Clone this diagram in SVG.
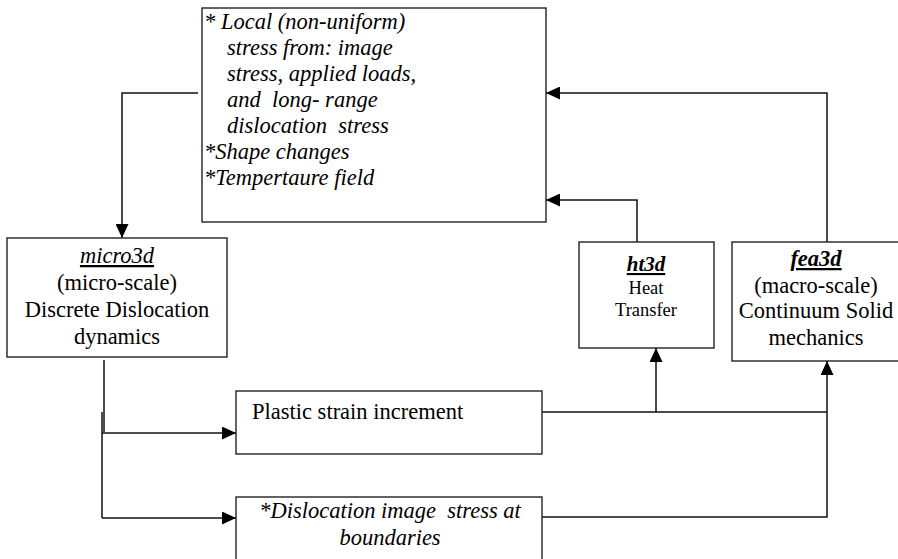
<svg xmlns="http://www.w3.org/2000/svg" width="898" height="559" viewBox="0 0 898 559" font-family="'Liberation Serif', 'DejaVu Serif', serif">
<style>
.box{fill:#fff;stroke:#222;stroke-width:1.4}
.t{font-size:22.5px;fill:#000}
.i{font-style:italic}
.b{font-weight:bold}
.u{text-decoration:underline}
.m{text-anchor:middle}
.c{fill:none;stroke:#111;stroke-width:1.5}
</style>
<defs>
<marker id="ah" markerUnits="userSpaceOnUse" markerWidth="15" markerHeight="13" refX="14" refY="6.5" orient="auto">
<path d="M0,0 L14,6.5 L0,13 z" fill="#000"/>
</marker>
</defs>
<rect width="898" height="559" fill="#fff"/>
<g id="connectors">
<path class="c" d="M198,93 H122 V238" marker-end="url(#ah)"/>
<path class="c" d="M827,242 V93 H546" marker-end="url(#ah)"/>
<path class="c" d="M637,242 V200 H546" marker-end="url(#ah)"/>
<path class="c" d="M104,360 V432"/>
<path class="c" d="M102,412 V518"/>
<path class="c" d="M102,433 H236" marker-end="url(#ah)"/>
<path class="c" d="M102,518 H236" marker-end="url(#ah)"/>
<path class="c" d="M542,412 H827"/>
<path class="c" d="M656,412 V348" marker-end="url(#ah)"/>
<path class="c" d="M542,517 H827 V361" marker-end="url(#ah)"/>
</g>
<g id="local-stress">
<rect class="box" x="202" y="8" width="344" height="214"/>
<text class="t i" x="204" y="29">* Local (non-uniform)</text>
<text class="t i" x="227" y="55">stress from: image</text>
<text class="t i" x="227" y="81">stress, applied loads,</text>
<text class="t i" x="227" y="107" xml:space="preserve">and  long- range</text>
<text class="t i" x="227" y="133" xml:space="preserve">dislocation  stress</text>
<text class="t i" x="204" y="159">*Shape changes</text>
<text class="t i" x="204" y="185">*Tempertaure field</text>
</g>
<g id="micro3d">
<rect class="box" x="7" y="238" width="220" height="119"/>
<text class="t i u m" x="117" y="263">micro3d</text>
<text class="t m" x="117" y="290">(micro-scale)</text>
<text class="t m" x="117" y="317">Discrete Dislocation</text>
<text class="t m" x="117" y="344">dynamics</text>
</g>
<g id="ht3d">
<rect class="box" x="579" y="242" width="135" height="106"/>
<text class="t i b u m" x="646" y="271" style="font-size:21px">ht3d</text>
<text class="t m" x="646" y="294" style="font-size:18.5px">Heat</text>
<text class="t m" x="646" y="316" style="font-size:18.5px">Transfer</text>
</g>
<g id="fea3d">
<rect class="box" x="732" y="242" width="180" height="119"/>
<text class="t i b u m" x="816" y="266">fea3d</text>
<text class="t m" x="816" y="293">(macro-scale)</text>
<text class="t m" x="816" y="318">Continuum Solid</text>
<text class="t m" x="816" y="345">mechanics</text>
</g>
<g id="plastic-strain">
<rect class="box" x="236" y="391" width="306" height="63"/>
<text class="t" x="252" y="419">Plastic strain increment</text>
</g>
<g id="image-stress">
<rect class="box" x="236" y="497" width="306" height="75"/>
<text class="t i m" x="390" y="518" xml:space="preserve">*Dislocation image  stress at</text>
<text class="t i m" x="390" y="545">boundaries</text>
</g>
</svg>
